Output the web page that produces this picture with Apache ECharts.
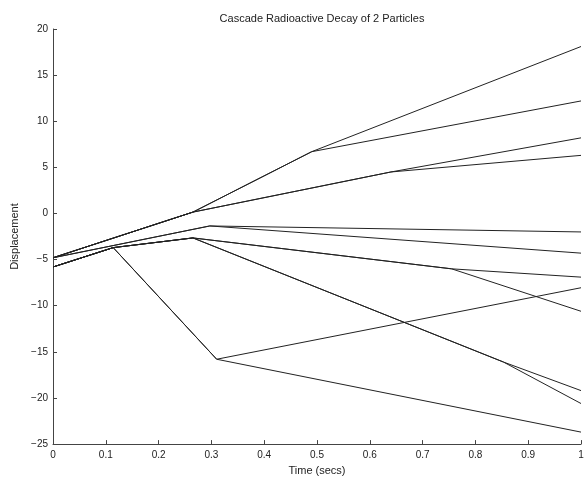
<!DOCTYPE html>
<html>
<head>
<meta charset="utf-8">
<script src="https://cdn.jsdelivr.net/npm/echarts@6/dist/echarts.min.js"></script>
<style>
html,body{margin:0;padding:0;background:#fff;}
#chart{width:587px;height:481px;}
</style>
</head>
<body>
<div id="chart"></div>
<script>
// Paths of the 12 final particles: [time, displacement] points
const path1  = [[0, -4.8], [0.265, 0.15], [0.49, 6.7], [1, 18.1]];
const path2  = [[0, -4.8], [0.265, 0.15], [0.49, 6.7], [1, 12.2]];
const path3  = [[0, -4.8], [0.265, 0.15], [0.64, 4.5], [1, 8.2]];
const path4  = [[0, -4.8], [0.265, 0.15], [0.64, 4.5], [1, 6.3]];
const path5  = [[0, -4.8], [0.297, -1.35], [1, -2.0]];
const path6  = [[0, -4.8], [0.297, -1.35], [1, -4.3]];
const path7  = [[0, -5.8], [0.114, -3.7], [0.265, -2.65], [0.755, -6.0], [1, -6.9]];
const path8  = [[0, -5.8], [0.114, -3.7], [0.265, -2.65], [0.755, -6.0], [1, -10.6]];
const path9  = [[0, -5.8], [0.114, -3.7], [0.265, -2.65], [0.853, -16.1], [1, -19.2]];
const path10 = [[0, -5.8], [0.114, -3.7], [0.265, -2.65], [0.853, -16.1], [1, -20.6]];
const path11 = [[0, -5.8], [0.114, -3.7], [0.31, -15.8], [1, -8.05]];
const path12 = [[0, -5.8], [0.114, -3.7], [0.31, -15.8], [1, -23.7]];

const paths = [path1, path2, path3, path4, path5, path6, path7, path8, path9, path10, path11, path12];

const titleText = 'Cascade Radioactive Decay of 2 Particles';
const xName = 'Time (secs)';
const yName = 'Displacement';

const chart = echarts.init(document.getElementById('chart'), null, {renderer: 'canvas'});
const font = 'Liberation Sans, Arial, Helvetica, sans-serif';
chart.setOption({
  animation: false,
  backgroundColor: '#ffffff',
  title: {
    text: titleText,
    left: 317, top: 8, textAlign: 'center',
    textStyle: {fontFamily: font, fontSize: 11, fontWeight: 'normal', color: '#222'}
  },
  grid: {left: 53, right: 6, top: 29, bottom: 35, containLabel: false},
  xAxis: {
    type: 'value', min: 0, max: 1, interval: 0.1,
    name: xName, nameLocation: 'middle', nameGap: 20,
    nameTextStyle: {fontFamily: font, fontSize: 11, color: '#222'},
    axisLine: {show: true, onZero: false, lineStyle: {color: '#444', width: 1}},
    axisTick: {show: true, inside: true, length: 4, lineStyle: {color: '#444'}},
    axisLabel: {fontFamily: font, fontSize: 10, color: '#222', margin: 6,
      formatter: v => (Math.round(v * 10) / 10).toString()},
    splitLine: {show: false}
  },
  yAxis: {
    type: 'value', min: -25, max: 20, interval: 5,
    name: yName, nameLocation: 'middle', nameGap: 30,
    nameTextStyle: {fontFamily: font, fontSize: 11, color: '#222'},
    axisLine: {show: true, onZero: false, lineStyle: {color: '#444', width: 1}},
    axisTick: {show: true, inside: true, length: 4, lineStyle: {color: '#444'}},
    axisLabel: {fontFamily: font, fontSize: 10, color: '#222', margin: 5,
      formatter: v => (v < 0 ? '\u2212' + (-v) : String(v))},
    splitLine: {show: false}
  },
  series: paths.map((p, i) => ({
    type: 'line', name: 'p' + (i + 1), data: p,
    showSymbol: false, symbol: 'none', silent: true,
    lineStyle: {color: '#222', width: 1}
  }))
});
</script>
</body>
</html>
